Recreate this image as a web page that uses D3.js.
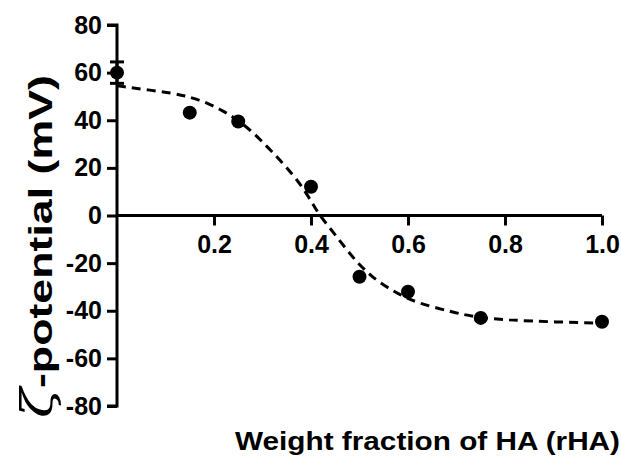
<!DOCTYPE html>
<html><head><meta charset="utf-8">
<script src="https://cdn.jsdelivr.net/npm/d3@7"></script>
<style>body{margin:0;background:#fff;}svg{display:block;}</style>
</head><body>
<script>
// data
const pointX = [0, 0.15, 0.25, 0.40, 0.50, 0.60, 0.75, 1.00];
const pointY = [60, 43.2, 39.5, 12.1, -25.7, -32, -43, -44.6];
const pointErr = [4.5, 0, 0, 0, 0, 0, 0, 0];
const fitX = [0, 0.054, 0.115, 0.15, 0.186, 0.219, 0.25, 0.28, 0.31, 0.336, 0.363, 0.384, 0.405, 0.42, 0.446, 0.474, 0.5, 0.52, 0.54, 0.58, 0.62, 0.687, 0.735, 0.804, 0.9, 1.0];
const fitY = [54.5, 53, 51.4, 49.8, 47.3, 43.9, 40, 35, 28.8, 23.3, 17, 11.5, 4.4, -0.6, -7, -14.5, -20.8, -24.5, -28, -33, -36.8, -40.3, -42.6, -43.9, -44.7, -45.2];
const xTicks = [0.2, 0.4, 0.6, 0.8, 1.0];
const yTicks = [80, 60, 40, 20, 0, -20, -40, -60, -80];

const W = 621, H = 457;
const svg = d3.select("body").append("svg").attr("width", W).attr("height", H);
const x = d3.scaleLinear().domain([0, 1]).range([117, 602]);
const y = d3.scaleLinear().domain([-80, 80]).range([406, 25]);
const font = "'Liberation Sans', Arial, sans-serif";

// y axis
const yAxis = d3.axisLeft(y).tickValues(yTicks).tickSize(10).tickPadding(5).tickFormat(d => String(d));
const gy = svg.append("g").attr("transform", `translate(${x(0)},0)`).call(yAxis);
gy.select(".domain").attr("stroke-width", 3).attr("d", `M-10,${y(80)}H0V${y(-80)}H-10`);
gy.selectAll(".tick line").attr("stroke-width", 3);
gy.selectAll(".tick text").attr("font-family", font).attr("font-weight", "bold").attr("font-size", 25).attr("fill", "#000");

// x axis
const xAxis = d3.axisBottom(x).tickValues(xTicks).tickSize(10).tickPadding(10).tickFormat(d3.format(".1f"));
const gx = svg.append("g").attr("transform", `translate(0,${y(0)})`).call(xAxis);
gx.select(".domain").attr("stroke-width", 3).attr("d", `M${x(0)},0H${x(1)}`);
gx.selectAll(".tick line").attr("stroke-width", 3);
gx.selectAll(".tick text").attr("font-family", font).attr("font-weight", "bold").attr("font-size", 25).attr("fill", "#000");

// fit curve
const line = d3.line().x(d => x(d[0])).y(d => y(d[1])).curve(d3.curveBasis);
svg.append("path").datum(fitX.map((v, i) => [v, fitY[i]]))
  .attr("d", line).attr("fill", "none").attr("stroke", "#000")
  .attr("stroke-width", 3).attr("stroke-dasharray", "9,6");

// error bars
const pts = pointX.map((v, i) => ({x: v, y: pointY[i], e: pointErr[i]}));
const eb = svg.append("g");
pts.filter(d => d.e > 0).forEach(d => {
  eb.append("line").attr("x1", x(d.x)).attr("x2", x(d.x)).attr("y1", y(d.y - d.e)).attr("y2", y(d.y + d.e)).attr("stroke", "#000").attr("stroke-width", 3);
  [d.y - d.e, d.y + d.e].forEach(v => eb.append("line").attr("x1", x(d.x) - 7).attr("x2", x(d.x) + 7).attr("y1", y(v)).attr("y2", y(v)).attr("stroke", "#000").attr("stroke-width", 3));
});

// points
svg.append("g").selectAll("circle").data(pts).join("circle")
  .attr("cx", d => x(d.x)).attr("cy", d => y(d.y)).attr("r", 7).attr("fill", "#000");

// titles
svg.append("text").attr("x", 235).attr("y", 450)
  .attr("font-family", font).attr("font-weight", "bold").attr("font-size", 26)
  .attr("textLength", 385).attr("lengthAdjust", "spacingAndGlyphs")
  .text("Weight fraction of HA (rHA)");
const yt = svg.append("text").attr("transform", "translate(52,418) rotate(-90)")
  .attr("font-family", font).attr("font-weight", "bold").attr("font-size", 34)
  .attr("textLength", 343).attr("lengthAdjust", "spacingAndGlyphs");
yt.append("tspan").attr("font-family", "'DejaVu Serif', serif").attr("font-weight", "normal").attr("font-style", "italic").attr("font-size", 42).text("ζ");
yt.append("tspan").text("-potential (mV)");
</script>
</body></html>
